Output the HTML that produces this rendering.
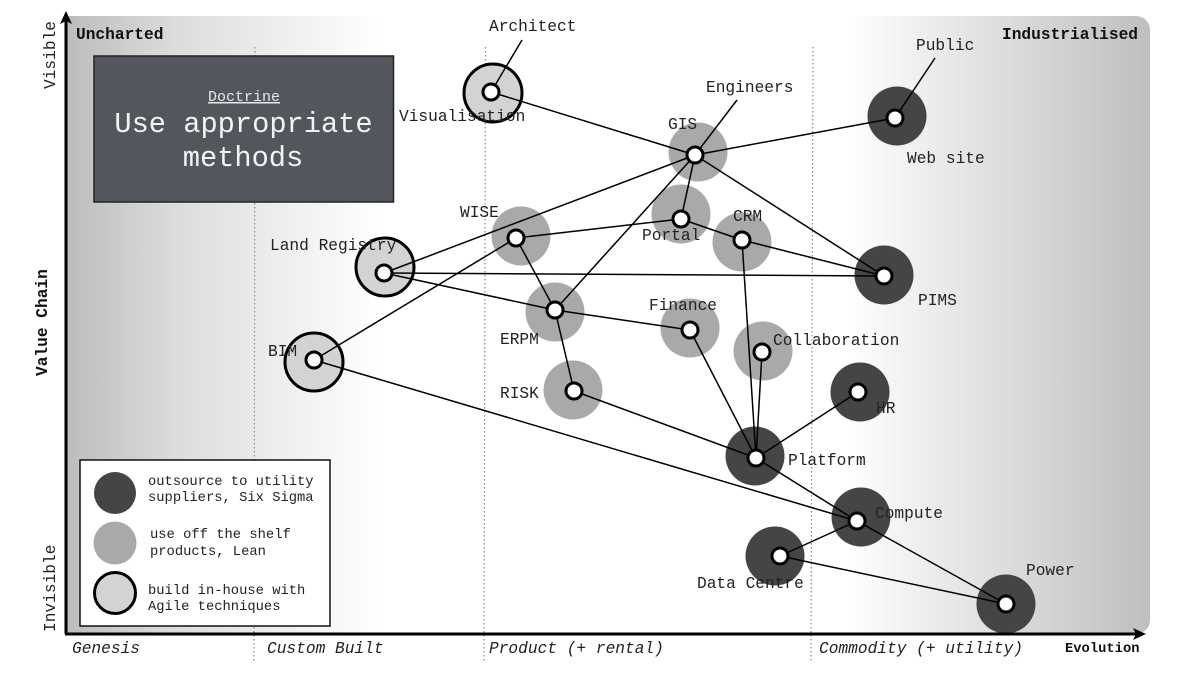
<!DOCTYPE html>
<html><head><meta charset="utf-8"><style>
html,body{margin:0;padding:0;background:#fff;width:1200px;height:675px;overflow:hidden}
svg{display:block}
text{font-family:"Liberation Mono",monospace;font-size:16.2px;fill:#222}
.b{font-weight:bold;fill:#111}
.i{font-style:italic}
.l{font-size:13.8px}
.e line{stroke:#000;stroke-width:1.5}
.w circle{fill:#fff;stroke:#000;stroke-width:3}
</style></head><body>
<svg width="1200" height="675" viewBox="0 0 1200 675" xmlns="http://www.w3.org/2000/svg">
<defs><linearGradient id="g" x1="66" x2="1150" y1="0" y2="0" gradientUnits="userSpaceOnUse">
<stop offset="0" stop-color="#bcbcbc"/><stop offset=".1" stop-color="#dcdcdc"/><stop offset=".29" stop-color="#fff"/>
<stop offset=".72" stop-color="#fff"/><stop offset=".85" stop-color="#e0e0e0"/><stop offset="1" stop-color="#bfbfbf"/></linearGradient></defs>
<path d="M66 16H1136a14 14 0 0 1 14 14V620a14 14 0 0 1-14 14H66Z" fill="url(#g)"/>
<g stroke="#888" stroke-width="1.2" stroke-dasharray="1.5 2.5">
<line x1="255" y1="47" x2="254" y2="661"/><line x1="485.500" y1="47" x2="484" y2="661"/><line x1="813" y1="47" x2="811" y2="661"/>
</g>
<g fill="#a9a9a9">
<circle cx="698" cy="152" r="29.500"/><circle cx="681" cy="214" r="29.500"/><circle cx="742" cy="242" r="29.500"/><circle cx="521" cy="236" r="29.500"/><circle cx="555" cy="312" r="29.500"/><circle cx="690" cy="328" r="29.500"/><circle cx="763" cy="351" r="29.500"/><circle cx="573" cy="390" r="29.500"/>
</g>
<g fill="#454545">
<circle cx="897" cy="116" r="29.500"/><circle cx="884" cy="275" r="29.500"/><circle cx="860" cy="392" r="29.500"/><circle cx="755" cy="456" r="29.500"/><circle cx="861" cy="517" r="29.500"/><circle cx="775" cy="556" r="29.500"/><circle cx="1006" cy="604" r="29.500"/>
</g>
<g fill="#d3d3d3" stroke="#000" stroke-width="3">
<circle cx="493" cy="93" r="29"/><circle cx="385" cy="267" r="29"/><circle cx="314" cy="362" r="29"/>
</g>
<g class="e">
<line x1="522" y1="40" x2="491" y2="92"/><line x1="491" y1="92" x2="695" y2="155"/><line x1="737" y1="100" x2="695" y2="155"/>
<line x1="695" y1="155" x2="895" y2="118"/><line x1="935" y1="58" x2="895" y2="118"/><line x1="695" y1="155" x2="384" y2="273"/>
<line x1="695" y1="155" x2="555" y2="310"/><line x1="695" y1="155" x2="681" y2="219"/><line x1="695" y1="155" x2="884" y2="276"/>
<line x1="516" y1="238" x2="681" y2="219"/><line x1="681" y1="219" x2="742" y2="240"/><line x1="742" y1="240" x2="884" y2="276"/>
<line x1="742" y1="240" x2="756" y2="458"/><line x1="516" y1="238" x2="314" y2="360"/><line x1="516" y1="238" x2="555" y2="310"/>
<line x1="384" y1="273" x2="884" y2="276"/><line x1="384" y1="273" x2="555" y2="310"/><line x1="555" y1="310" x2="690" y2="330"/>
<line x1="555" y1="310" x2="574" y2="391"/><line x1="690" y1="330" x2="756" y2="458"/><line x1="762" y1="352" x2="756" y2="458"/>
<line x1="574" y1="391" x2="756" y2="458"/><line x1="858" y1="392" x2="756" y2="458"/><line x1="756" y1="458" x2="857" y2="521"/>
<line x1="314" y1="360" x2="857" y2="521"/><line x1="857" y1="521" x2="780" y2="556"/><line x1="857" y1="521" x2="1006" y2="604"/>
<line x1="780" y1="556" x2="1006" y2="604"/>
</g>
<g class="w">
<circle cx="491" cy="92" r="8"/><circle cx="695" cy="155" r="8"/><circle cx="895" cy="118" r="8"/><circle cx="681" cy="219" r="8"/><circle cx="742" cy="240" r="8"/><circle cx="516" cy="238" r="8"/><circle cx="384" cy="273" r="8"/><circle cx="884" cy="276" r="8"/><circle cx="555" cy="310" r="8"/><circle cx="690" cy="330" r="8"/><circle cx="762" cy="352" r="8"/><circle cx="314" cy="360" r="8"/><circle cx="574" cy="391" r="8"/><circle cx="858" cy="392" r="8"/><circle cx="756" cy="458" r="8"/><circle cx="857" cy="521" r="8"/><circle cx="780" cy="556" r="8"/><circle cx="1006" cy="604" r="8"/>
</g>
<rect x="94" y="56" width="299.500" height="146" fill="#53565c" stroke="#222" stroke-width="1.500"/>
<text x="244" y="101" text-anchor="middle" style="font-size:15px;fill:#e8e8e8;text-decoration:underline">Doctrine</text>
<text x="243.500" y="132" text-anchor="middle" style="font-size:28.700px;fill:#f4f4f4">Use appropriate</text>
<text x="243" y="166" text-anchor="middle" style="font-size:28.700px;fill:#f4f4f4">methods</text>
<rect x="80" y="460" width="250" height="166" fill="#fff" stroke="#111" stroke-width="1.500"/>
<circle cx="115" cy="493" r="21" fill="#454545"/><circle cx="115" cy="543" r="21.500" fill="#a9a9a9"/><circle cx="115" cy="593" r="20.500" fill="#d3d3d3" stroke="#000" stroke-width="3"/>
<text class="l" x="148" y="485">outsource to utility</text><text class="l" x="148" y="501">suppliers, Six Sigma</text>
<text class="l" x="150" y="538">use off the shelf</text><text class="l" x="150" y="555">products, Lean</text>
<text class="l" x="148" y="594">build in-house with</text><text class="l" x="148" y="610">Agile techniques</text>
<line x1="66" y1="634" x2="66" y2="20" stroke="#000" stroke-width="3"/><polygon points="66,11 72,24 66,21 60,24" fill="#000"/>
<line x1="65" y1="634" x2="1138" y2="634" stroke="#000" stroke-width="3"/><polygon points="1146,634 1133,628 1136,634 1133,640" fill="#000"/>
<text class="b" x="76" y="39" style="font-size:16.200px">Uncharted</text>
<text class="b" x="1002" y="39" style="font-size:16.200px">Industrialised</text>
<text class="b l" x="1065" y="652">Evolution</text>
<text transform="translate(55,89) rotate(-90)">Visible</text>
<text transform="translate(55,632) rotate(-90)">Invisible</text>
<text class="b" transform="translate(47,376) rotate(-90)">Value Chain</text>
<text class="i" x="72" y="653">Genesis</text><text class="i" x="267" y="653">Custom Built</text><text class="i" x="489" y="653">Product (+ rental)</text><text class="i" x="819" y="653">Commodity (+ utility)</text>
<text x="489" y="31">Architect</text><text x="399" y="121">Visualisation</text><text x="706" y="92">Engineers</text><text x="668" y="129">GIS</text>
<text x="916" y="50">Public</text><text x="907" y="163">Web site</text><text x="460" y="217">WISE</text><text x="642" y="240">Portal</text>
<text x="733" y="221">CRM</text><text x="270" y="250">Land Registry</text><text x="918" y="305">PIMS</text><text x="500" y="344">ERPM</text>
<text x="649" y="310">Finance</text><text x="773" y="345">Collaboration</text><text x="268" y="356">BIM</text><text x="500" y="398">RISK</text>
<text x="876" y="413">HR</text><text x="788" y="465">Platform</text><text x="875" y="518">Compute</text><text x="697" y="588">Data Centre</text><text x="1026" y="575">Power</text>
</svg>
</body></html>
